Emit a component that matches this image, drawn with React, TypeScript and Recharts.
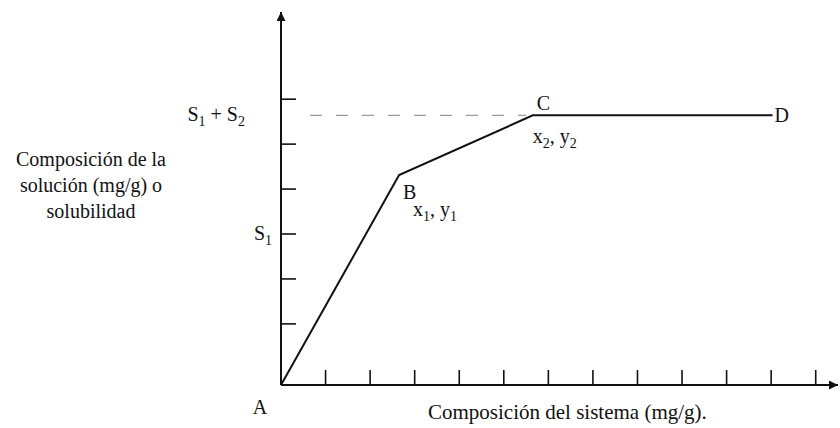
import React from "react";
import { LineChart, Line, XAxis, YAxis, ReferenceDot, ReferenceLine } from "recharts";

// Points of the solubility diagram (A → B → C → D)
const pointNames = ["A", "B", "C", "D"];
const systemComposition = [0, 2.65, 5.65, 11.03];
const solutionComposition = [0, 4.67, 6.0, 6.0];
const coordIndex = ["", "1", "2", ""];

// Axis ticks and levels
const xTicks = [1, 2, 3, 4, 5, 6, 7, 8, 9, 10, 11, 12];
const yTicks = [1.36, 2.36, 3.36, 4.36, 5.36, 6.36];
const s1Level = 3.36;
const s1s2Level = 6.0;
const dashStart = 0.65;

const xTitle = "Composición del sistema (mg/g).";
const yTitle = ["Composición de la", "solución (mg/g) o", "solubilidad"];

const SERIF = '"Liberation Serif", "Times New Roman", serif';
const INK = "#111";

const data = pointNames.map((name, i) => ({
  name,
  x: systemComposition[i],
  y: solutionComposition[i],
}));

type Part = [string, boolean];

function SubText({ x, y, parts, anchor = "start", size = 20 }: { x: number; y: number; parts: Part[]; anchor?: string; size?: number }) {
  let prevSub = false;
  return (
    <text x={x} y={y} textAnchor={anchor as any} fontFamily={SERIF} fontSize={size} fill={INK}>
      {parts.map(([t, sub], i) => {
        const dy = sub && !prevSub ? 5 : !sub && prevSub ? -5 : 0;
        prevSub = sub;
        return (
          <tspan key={i} dy={dy} fontSize={sub ? size * 0.7 : size}>
            {t}
          </tspan>
        );
      })}
    </text>
  );
}

// label renderer anchored at the dot centre
const at = (parts: Part[], dx: number, dy: number, anchor = "start") => (props: any) => {
  const vb = props.viewBox;
  const cx = vb.x + vb.width / 2;
  const cy = vb.y + vb.height / 2;
  return <SubText x={cx + dx} y={cy + dy} parts={parts} anchor={anchor} />;
};

const coordParts = (n: string): Part[] => [["x", false], [n, true], [", y", false], [n, true]];

const nameOffsets: Record<string, [number, number, string]> = {
  A: [-21, 29, "middle"],
  B: [4, 24, "start"],
  C: [4, -5, "start"],
  D: [2, 7, "start"],
};
const coordOffsets: Record<string, [number, number]> = {
  B: [14, 41],
  C: [0, 28],
};

// tick marks only, no tick text
const noTickText = () => <g />;

export default function App() {
  return (
    <div style={{ position: "absolute", left: 0, top: 0, width: 840, height: 428, background: "#fff" }}>
      <LineChart width={840} height={428} data={data} margin={{ top: 12, right: 2, bottom: 43, left: 281 }}>
        <defs>
          <marker
            id="axisArrow"
            viewBox="0 0 10 10"
            refX="10"
            refY="5"
            markerWidth="10"
            markerHeight="9"
            markerUnits="userSpaceOnUse"
            orient="auto-start-reverse"
          >
            <path d="M0,0 L10,5 L0,10 z" fill={INK} />
          </marker>
        </defs>
        <XAxis
          type="number"
          dataKey="x"
          domain={[0, 12.5]}
          ticks={xTicks}
          mirror
          height={1}
          tick={noTickText}
          tickSize={15}
          tickLine={{ stroke: INK, strokeWidth: 1.6 }}
          axisLine={{ stroke: INK, strokeWidth: 2, markerEnd: "url(#axisArrow)" }}
        />
        <YAxis
          type="number"
          dataKey="y"
          domain={[0, 8.3]}
          ticks={yTicks}
          mirror
          width={1}
          tick={noTickText}
          tickSize={15}
          tickLine={{ stroke: INK, strokeWidth: 1.6 }}
          axisLine={{ stroke: INK, strokeWidth: 2, markerStart: "url(#axisArrow)" }}
        />
        <ReferenceLine
          segment={[
            { x: dashStart, y: s1s2Level },
            { x: systemComposition[2] - 0.15, y: s1s2Level },
          ]}
          stroke="#9a9a9a"
          strokeWidth={1.4}
          strokeDasharray="12 14"
        />
        <Line
          type="linear"
          dataKey="y"
          stroke={INK}
          strokeWidth={2}
          dot={false}
          isAnimationActive={false}
        />
        <ReferenceDot
          x={0}
          y={s1s2Level}
          r={1}
          fill="none"
          stroke="none"
          label={at([["S", false], ["1", true], [" + S", false], ["2", true]], -36, 6, "end")}
        />
        <ReferenceDot
          x={0}
          y={s1Level}
          r={1}
          fill="none"
          stroke="none"
          label={at([["S", false], ["1", true]], -9, 6, "end")}
        />
        {data.map((p) => (
          <ReferenceDot
            key={p.name}
            x={p.x}
            y={p.y}
            r={1}
            fill="none"
            stroke="none"
            label={at([[p.name, false]], nameOffsets[p.name][0], nameOffsets[p.name][1], nameOffsets[p.name][2])}
          />
        ))}
        {data
          .filter((_, i) => coordIndex[i])
          .map((p) => {
            const n = coordIndex[pointNames.indexOf(p.name)];
            return (
              <ReferenceDot
                key={"c" + p.name}
                x={p.x}
                y={p.y}
                r={1}
                fill="none"
                stroke="none"
                label={at(coordParts(n), coordOffsets[p.name][0], coordOffsets[p.name][1])}
              />
            );
          })}
      </LineChart>
      <div
        style={{
          position: "absolute",
          left: 0,
          top: 146,
          width: 182,
          textAlign: "center",
          fontFamily: SERIF,
          fontSize: 20,
          lineHeight: "26px",
          color: INK,
        }}
      >
        {yTitle.map((line) => (
          <div key={line}>{line}</div>
        ))}
      </div>
      <div
        style={{
          position: "absolute",
          left: 428,
          top: 399,
          fontFamily: SERIF,
          fontSize: 21,
          lineHeight: "26px",
          color: INK,
          whiteSpace: "nowrap",
        }}
      >
        {xTitle}
      </div>
    </div>
  );
}
